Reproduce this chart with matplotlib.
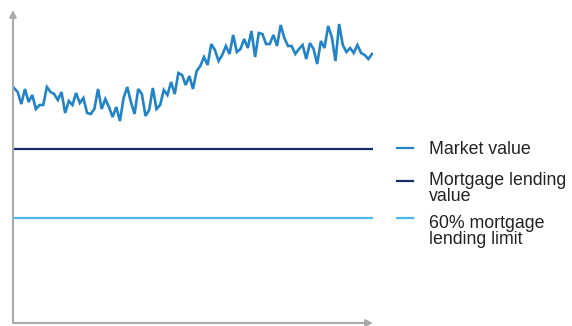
import numpy as np
import matplotlib
matplotlib.use("Agg")
import matplotlib.pyplot as plt
from matplotlib.lines import Line2D

plt.rcParams['font.family'] = ['Liberation Sans', 'DejaVu Sans']

# market value series (arbitrary units)
market = [235, 231, 219, 234, 221, 228, 214, 218, 218, 236, 231, 229, 223, 231,
          210, 222, 218, 230, 220, 225, 210, 209, 214, 234, 214, 224, 216, 206,
          216, 202, 225, 236, 221, 209, 234, 229, 207, 213, 235, 214, 218, 233,
          228, 241, 229, 250, 248, 238, 247, 234, 252, 257, 266, 258, 279, 273,
          262, 268, 277, 269, 288, 271, 274, 284, 275, 292, 266, 290, 289, 279,
          279, 288, 277, 298, 285, 277, 277, 269, 274, 278, 264, 280, 274, 259,
          282, 275, 297, 286, 262, 299, 278, 271, 275, 270, 278, 270, 268, 264,
          269]
lending_value = 174
lending_limit = 105

labels = ["Market value", "Mortgage lending\nvalue", "60% mortgage\nlending limit"]
colors = ["#2284c6", "#172b66", "#4db8e6"]

W, H = 572, 326
fig = plt.figure(figsize=(W / 100, H / 100), dpi=100)
ax = fig.add_axes([13 / W, 3 / H, 360 / W, 313 / H])

n = len(market)
x = np.arange(n)
ax.plot(x, market, color=colors[0], lw=1.9, solid_joinstyle='miter')
ax.axhline(lending_value, color=colors[1], lw=1.6)
ax.axhline(lending_limit, color=colors[2], lw=1.6)
step = (n - 1) / 358
ax.set_xlim(-step * 1, (n - 1) + step * 1)
ax.set_ylim(0, 313)
ax.axis('off')

# axes with arrow heads
gray = "#aaaaaa"
ax.annotate("", xy=(0, 1), xytext=(0, 0), xycoords='axes fraction',
            arrowprops=dict(arrowstyle='-|>', color=gray, lw=1.5,
                            mutation_scale=10, shrinkA=0, shrinkB=0))
ax.annotate("", xy=(1, 0), xytext=(0, 0), xycoords='axes fraction',
            arrowprops=dict(arrowstyle='-|>', color=gray, lw=1.5,
                            mutation_scale=10, shrinkA=0, shrinkB=0))

# legend drawn by hand
handle_y = [148, 181, 218]
text_top = [141, 172, 215]
for lab, c, hy, ty in zip(labels, colors, handle_y, text_top):
    fig.add_artist(Line2D([397 / W, 413 / W], [1 - hy / H, 1 - hy / H],
                          color=c, lw=1.6, transform=fig.transFigure))
    fig.text(429 / W, 1 - ty / H, lab, fontsize=12.8, color="#222222",
             va='top', ha='left', linespacing=0.95)

fig.savefig("out.png", dpi=100)
